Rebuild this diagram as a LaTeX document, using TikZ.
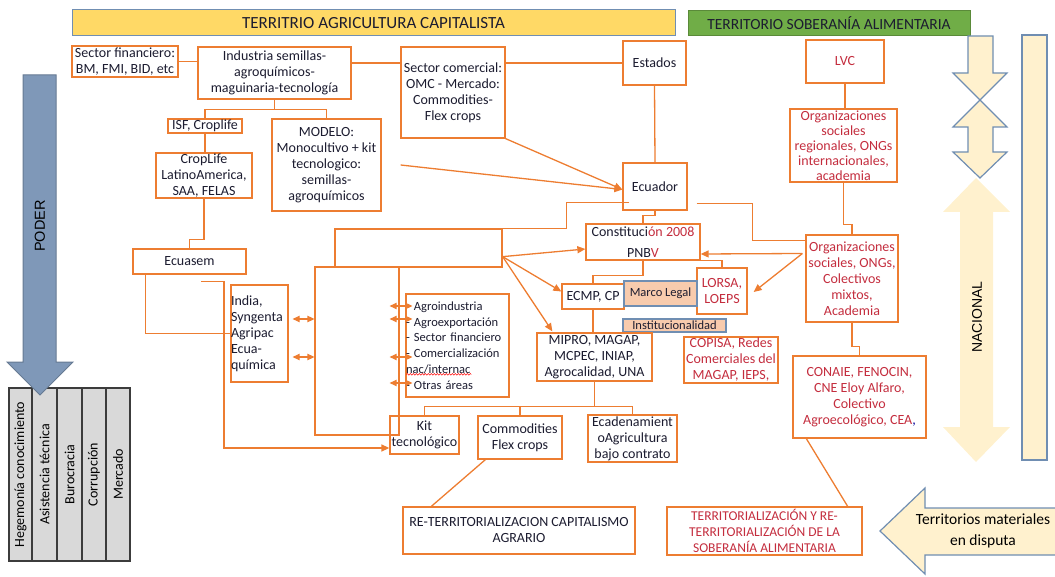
\documentclass[tikz,border=0pt]{standalone}
\usepackage{fontspec}
\setmainfont{Carlito}
\newfontfamily\arialf{Liberation Sans}
\usetikzlibrary{arrows.meta,calc,backgrounds,decorations.pathmorphing}
\definecolor{org}{RGB}{237,125,49}
\definecolor{dk}{RGB}{28,28,48}
\definecolor{rd}{RGB}{196,45,62}
\definecolor{ylw}{RGB}{255,217,102}
\definecolor{grn}{RGB}{112,173,71}
\definecolor{bluegr}{RGB}{112,142,178}
\definecolor{steel}{RGB}{127,152,184}
\definecolor{cream}{RGB}{255,241,206}
\definecolor{peach}{RGB}{248,203,173}
\definecolor{gry}{RGB}{217,217,217}
\definecolor{cellb}{RGB}{60,60,60}
\begin{document}
\begin{tikzpicture}[x=1pt,y=-1pt,
  sz/.style 2 args={minimum width=#1,minimum height=#2},
  bx/.style={draw=org,line width=1.3pt,fill=white,inner sep=0pt,align=center,text=dk,font=\fontsize{14}{16}\selectfont},
  rbx/.style={bx,text=rd},
  lgl/.style={draw=bluegr,line width=1.2pt,fill=peach,inner sep=0pt,text=dk,font=\fontsize{12.5}{15}\selectfont},
  ln/.style={draw=org,line width=1.3pt},
  ar/.style={ln,-{Triangle[length=8pt,width=7pt]}},
  dar/.style={ln,{Triangle[length=7pt,width=6.5pt]}-{Triangle[length=7pt,width=6.5pt]}},
  cell/.style={draw=cellb,line width=1.3pt,fill=gry,inner sep=0pt,rotate=90,text=black,font=\fontsize{14}{16}\selectfont},
  bigar/.style={fill=cream,draw=bluegr,line width=1.2pt},
]
\useasboundingbox (0,0) rectangle (1055,577);
\clip (0,0) rectangle (1055,577);

% ---- banners
\node[draw=bluegr,line width=1pt,fill=ylw,sz={603pt}{26pt},inner sep=0pt,text=dk,font=\fontsize{17}{20}\selectfont] (yel) at (373.5,23) {TERRITRIO AGRICULTURA CAPITALISTA};
\node[draw=grn!80!black,line width=1pt,fill=grn,sz={282pt}{25pt},inner sep=0pt,text=dk,font=\fontsize{15.5}{17}\selectfont] (grnb) at (829,23.5) {TERRITORIO SOBERANÍA ALIMENTARIA};

% ---- left table and PODER arrow
\node[cell,sz={173pt}{23pt}] (c1) at (20.5,474.5) {Hegemonía conocimiento};
\node[cell,sz={173pt}{25pt}] (c2) at (44.5,474.5) {Asistencia técnica};
\node[cell,sz={173pt}{25pt}] (c3) at (69.5,474.5) {Burocracia};
\node[cell,sz={173pt}{24pt}] (c4) at (94,474.5) {Corrupción};
\node[cell,sz={173pt}{24pt}] (c5) at (118,474.5) {Mercado};
\draw[fill=steel,draw=steel!80!black,line width=1pt] (23,75) -- (56,75) -- (56,362) -- (73,362) -- (40,395) -- (7,362) -- (23,362) -- cycle;
\node[rotate=90,text=black,font=\arialf\fontsize{14.5}{16}\selectfont] (poder) at (40,226) {PODER};

% ---- right side arrows
\fill[cream] (976,178) -- (1010,212) -- (993,212) -- (993,427) -- (1010,427) -- (976,462) -- (943,427) -- (960,427) -- (960,212) -- (943,212) -- cycle;
\node[rotate=90,text=black,font=\arialf\fontsize{14}{16}\selectfont] (nac) at (977,317) {NACIONAL};
\draw[bigar] (968,36) -- (993,36) -- (993,73) -- (1007,73) -- (980,100) -- (953,73) -- (968,73) -- cycle;
\draw[bigar] (980,100) -- (1007,127) -- (993,127) -- (993,152) -- (1007,152) -- (980,178) -- (953,152) -- (968,152) -- (968,127) -- (953,127) -- cycle;
\draw[bigar] (1022,35) rectangle (1047,460);
\draw[bigar] (880,531) -- (925,488) -- (925,508) -- (1065,508) -- (1065,555) -- (925,555) -- (925,574) -- cycle;
\node[align=center,text=black,font=\fontsize{15.5}{18}\selectfont] (terrmat) at (983,531) {Territorios materiales\\[3pt]en disputa};

% ---- capitalist territory boxes
\node[bx,sz={106pt}{31pt}] (sf) at (125,61.5) {Sector financiero:\\BM, FMI, BID, etc};
\node[bx,sz={153pt}{52pt}] (ind) at (274.5,73) {Industria semillas-\\agroquímicos-\\maguinaria-tecnología};
\node[bx,sz={104pt}{91pt}] (scom) at (453,92.5) {Sector comercial:\\OMC - Mercado:\\Commodities-\\Flex crops};
\node[bx,sz={63pt}{44pt}] (est) at (654.5,63) {Estados};
\node[bx,sz={64pt}{47pt}] (ecu) at (655,186.5) {Ecuador};
\node[bx,sz={74pt}{14pt}] (isf) at (205,126) {ISF, Croplife};
\node[bx,sz={109pt}{92pt}] (mod) at (326.5,165) {MODELO:\\Monocultivo + kit\\tecnologico:\\semillas-\\agroquímicos};
\node[bx,sz={96pt}{45pt}] (clf) at (204,175.5) {CropLife\\LatinoAmerica,\\SAA, FELAS};
\node[bx,sz={113pt}{25pt}] (ecs) at (189.5,261.5) {Ecuasem};
\node[bx,sz={57pt}{97pt},align=left,text width=57pt] (ind2) at (259.5,333.5) {India,\\Syngenta\\Agripac\\Ecua-\\química};
\node[bx,sz={103pt}{103pt},align=left,text width=103pt,font=\fontsize{12.5}{15.8}\selectfont] (list) at (457.5,345.5) {- Agroindustria\\- Agroexportación\\- Sector financiero\\- Comercialización\\nac/internac\\- Otras áreas};
\node[bx,sz={114pt}{36pt}] (con) at (643,242) {Constituci{\color{rd}ón 2008}\\[5pt]PNB{\color{rd}V}};
\node[bx,sz={62pt}{25pt}] (ecmp) at (593,296.5) {ECMP, CP};
\node[rbx,sz={50pt}{46pt}] (lorsa) at (722,291) {LORSA,\\LOEPS};
\node[lgl,sz={73pt}{25pt}] (marco) at (660.5,293.5) {Marco Legal};
\node[lgl,sz={103pt}{13pt}] (inst) at (674.5,325.5) {Institucionalidad};
\node[bx,sz={115pt}{48pt}] (mipro) at (594.5,357) {MIPRO, MAGAP,\\MCPEC, INIAP,\\Agrocalidad, UNA};
\node[rbx,sz={94pt}{46pt}] (copisa) at (731,360) {COPISA, Redes\\Comerciales del\\MAGAP, IEPS,};
\node[bx,sz={69pt}{38pt}] (kit) at (424.5,435) {Kit\\tecnológico};
\node[bx,sz={84pt}{43pt}] (comm) at (520,437.5) {Commodities\\Flex crops};
\node[bx,sz={89pt}{47pt}] (ecad) at (632.5,438.5) {Ecadenamient\\oAgricultura\\bajo contrato};
\node[bx,sz={232pt}{47pt}] (retc) at (519,530.5) {RE-TERRITORIALIZACION CAPITALISMO\\AGRARIO};
\node[draw=org,line width=1.3pt,inner sep=0pt,sz={167pt}{38pt}] (rA) at (418.5,248) {};
\node[draw=org,line width=1.3pt,inner sep=0pt,sz={84pt}{168pt}] (rB) at (357,351) {};

% ---- food sovereignty boxes
\node[rbx,sz={78pt}{43pt}] (lvc) at (845,61.5) {LVC};
\node[rbx,sz={107pt}{73pt},font=\fontsize{14}{15}\selectfont] (orgr) at (843.5,145.5) {Organizaciones\\sociales\\regionales, ONGs\\internacionales,\\academia};
\node[rbx,sz={92pt}{87pt}] (orgs) at (852,278.5) {Organizaciones\\sociales, ONGs,\\Colectivos\\mixtos,\\Academia};
\node[rbx,sz={133pt}{82pt}] (conaie) at (859.5,397) {CONAIE, FENOCIN,\\CNE Eloy Alfaro,\\Colectivo\\Agroecológico, CEA{\color{blue!60!black},}};
\node[rbx,sz={195pt}{48pt},font=\fontsize{13.5}{16}\selectfont] (terr) at (764.5,531) {TERRITORIALIZACIÓN Y RE-\\TERRITORIALIZACIÓN DE LA\\SOBERANÍA ALIMENTARIA};

% spell-check underline
\draw[red,line width=0.5pt,decorate,decoration={snake,amplitude=0.8pt,segment length=3pt}] ($(list.north west)+(1,81)$) -- ($(list.north west)+(66,81)$);

% ---- connectors
\begin{scope}[on background layer]
  \draw[ln] (est.west -| ind.east) -- (est.west);
\end{scope}
\draw[ln] (sf.east) -- (sf.east -| ind.west);
\draw[ln] (ind.south) -- ++(0,10) coordinate (indj) -| (isf.north);
\draw[ln] (indj) -| (mod.north);
\draw[ln] (isf.south) -- (isf.south |- clf.north);
\draw[ln] (clf.south) -- ++(0,41) -| (ecs.north);
\draw[ln] ($(ecs.south west)+(13,0)$) |- (ind2.west);
\draw[ar] ($(ecs.south)+(11.5,7)$) -- ++(23,0) |- ($(kit.west)+(0,13)$);
\draw[ar] (scom.south east) -- ($(ecu.west)+(0,3)$);
\draw[ar] ($(mod.east)+(19,0)$) -- ($(ecu.west)+(0,3)$);
\draw[ln] (est.south) -- (ecu.north);
\draw[ln] ($(ecu.south west)+(7,-8)$) -| ($(rA.north east)+(64,0)$) -- (rA.north east);
\draw[ln] ($(ecu.south east)+(9,-7)$) -| ($(orgs.north west)+(-53,6)$) -- ($(orgs.north west)+(0,6)$);
\draw[ln] (ecu.south) -- ++(0,5) -| (con.north);
\coordinate (rAo) at ($(rA.south east)+(0,-11)$);
\draw[ar] (rAo) -- ($(con.west)+(0,7)$);
\draw[ar] (rAo) -- ($(ecmp.west)+(0,-5)$);
\draw[ar] (rAo) -- ($(mipro.north west)+(16,-1)$);
\draw[ln] (con.south) -- ++(0,15) -| (ecmp.north);
\draw[ln] (ecmp.south) -- (ecmp.south |- mipro.north);
\draw[ln] (con.south east) -| (lorsa.north);
\coordinate (orgo) at ($(orgs.west)+(-3,-25)$);
\draw[ar] (orgo) -- ($(con.east)+(0,12)$);
\draw[ar] (orgo) -- ($(lorsa.east)+(6,1)$);
\draw[ln] (orgr.south) -- ++(0,42) -| (orgs.north);
\draw[ln] (lvc.south) -- (lvc.south |- orgr.north);
\draw[ln] (orgs.south) -- ++(0,24) -| (conaie.north);
\draw[ln] ($(conaie.south west)+(14,0)$) -- ($(terr.north east)+(-15,0)$);
\draw[ln] (mipro.south) -- ++(0,25) coordinate (mj) -| (kit.north);
\draw[ln] (mj) -| (comm.north);
\draw[ln] (mj) -| (ecad.north);
\draw[ln] ($(comm.south west)+(8,0)$) -- ($(retc.north west)+(29,0)$);
\draw[dar] ($(ind2.east)+(4,-14.5)$) -- ($(rB.west)+(0,-32)$);
\draw[dar] ($(ind2.east)+(4,23.5)$) -- ($(rB.west)+(0,6)$);
\draw[dar] ($(rB.east)+(-10,-45)$) -- ($(list.west)+(7,-39.5)$);
\draw[dar] ($(rB.east)+(-10,-32)$) -- ($(list.west)+(7,-26.5)$);
\draw[dar] ($(rB.east)+(-10,6)$) -- ($(list.west)+(7,11.5)$);
\draw[dar] ($(rB.east)+(-10,32)$) -- ($(list.west)+(7,37.5)$);
\end{tikzpicture}
\end{document}
